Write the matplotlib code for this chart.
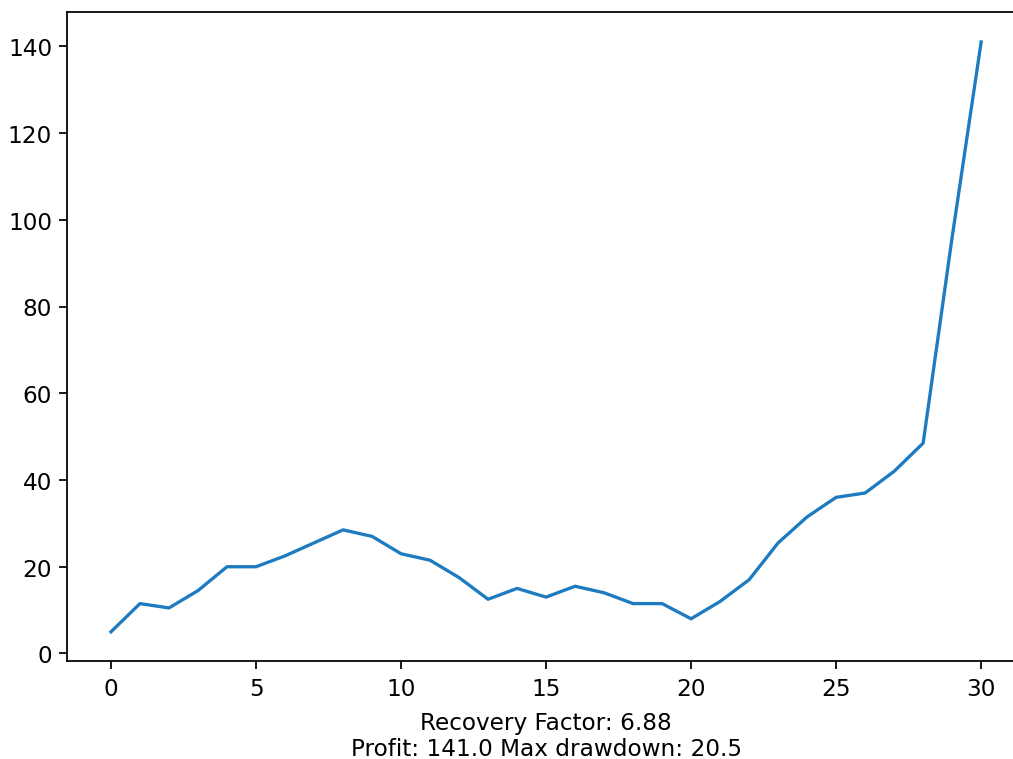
import matplotlib
matplotlib.use("Agg")
import matplotlib.pyplot as plt

# equity curve
steps = list(range(31))
equity = [5, 11.5, 10.5, 14.5, 20, 20, 22.5, 25.5, 28.5, 27,
          23, 21.5, 17.5, 12.5, 15, 13, 15.5, 14, 11.5, 11.5,
          8, 12, 17, 25.5, 31.5, 36, 37, 42, 48.5, 96, 141]

recovery_factor = 6.88
profit = 141.0
max_drawdown = 20.5


def plot(output_image='out.png'):
    plt.rcParams['font.size'] = 10.5
    fig, ax = plt.subplots(figsize=(6.4, 4.8), dpi=158.3)
    ax.plot(steps, equity, color='#1f7bc0', linewidth=1.5)
    ax.set_xlabel('Recovery Factor: %.2f\nProfit: %.1f Max drawdown: %.1f'
                  % (recovery_factor, profit, max_drawdown), labelpad=5)
    # the right edge runs a little past the picture in the reference
    fig.subplots_adjust(left=0.0666, right=1.0114, top=0.9825, bottom=0.1286)
    plt.savefig(output_image)


if __name__ == "__main__":
    plot()
